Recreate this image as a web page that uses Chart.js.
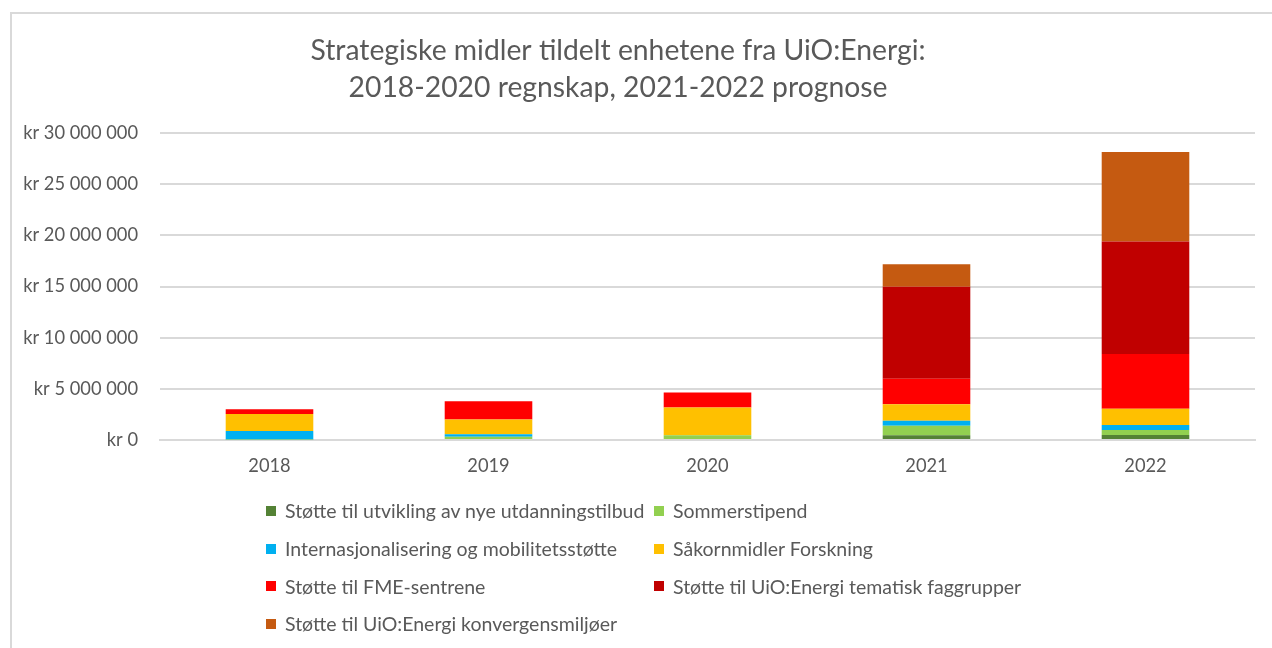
<!DOCTYPE html>
<html>
<head>
<meta charset="utf-8">
<script src="https://cdn.jsdelivr.net/npm/chart.js@4"></script>
<style>
  body { margin: 0; background: #fff; font-family: Lato, "Open Sans", sans-serif; }
  #wrap { position: relative; width: 1272px; height: 648px; overflow: hidden; }
  #frame { position: absolute; left: 10px; top: 12px; width: 1300px; height: 700px; border: 2px solid #d9d9d9; box-sizing: border-box; }
  canvas { position: absolute; left: 0; top: 0; }
  #legend { position: absolute; left: 266px; top: 492px; display: grid; grid-template-columns: 388px 400px; grid-auto-rows: 37.7px; color: #595959; font-size: 19.5px; }
  .item { display: flex; align-items: center; white-space: nowrap; }
  .box { width: 10px; height: 10px; margin-right: 9px; flex: none; }
</style>
</head>
<body>
<div id="wrap">
  <div id="frame"></div>
  <canvas id="myChart" width="1272" height="648"></canvas>
  <div id="legend"></div>
</div>
<script>
// values (NOK)
const years = ["2018", "2019", "2020", "2021", "2022"];
const utvikling = [0, 0, 0, 460000, 490000];
const sommer = [40000, 320000, 460000, 930000, 490000];
const intern = [850000, 230000, 0, 490000, 490000];
const sakorn = [1650000, 1460000, 2720000, 1620000, 1590000];
const fme = [460000, 1780000, 1460000, 2500000, 5350000];
const tematisk = [0, 0, 0, 8980000, 11000000];
const konvergens = [0, 0, 0, 2200000, 8750000];
const yTicks = [0, 5000000, 10000000, 15000000, 20000000, 25000000, 30000000];

const series = [
  { label: "Støtte til utvikling av nye utdanningstilbud", data: utvikling, color: "#548235" },
  { label: "Sommerstipend", data: sommer, color: "#92D050" },
  { label: "Internasjonalisering og mobilitetsstøtte", data: intern, color: "#00B0F0" },
  { label: "Såkornmidler Forskning", data: sakorn, color: "#FFC000" },
  { label: "Støtte til FME-sentrene", data: fme, color: "#FF0000" },
  { label: "Støtte til UiO:Energi tematisk faggrupper", data: tematisk, color: "#C00000" },
  { label: "Støtte til UiO:Energi konvergensmiljøer", data: konvergens, color: "#C55A11" },
];

const krFormat = (value) =>
  "kr " + String(value).replace(/\B(?=(\d{3})+(?!\d))/g, " ");

const font = "Lato, 'Open Sans', sans-serif";
Chart.defaults.font.family = font;
Chart.defaults.color = "#595959";

// trailing spaces nudge the centred title a bit to the left, like the original
const pad = "\u00a0\u00a0\u00a0\u00a0";

const ctx = document.getElementById("myChart");

const chart = new Chart(ctx, {
  type: "bar",
  data: {
    labels: years,
    datasets: series.map((s) => ({
      label: s.label,
      data: s.data,
      backgroundColor: s.color,
      borderWidth: 0,
      barPercentage: 0.4,
      categoryPercentage: 1,
    })),
  },
  options: {
    responsive: false,
    animation: false,
    layout: {
      padding: { left: 10, right: 17, top: 12, bottom: 168 },
    },
    plugins: {
      legend: { display: false },
      tooltip: { enabled: false },
      title: {
        display: true,
        text: [
          "Strategiske midler tildelt enhetene fra UiO:Energi:" + pad,
          "2018-2020 regnskap, 2021-2022 prognose" + pad,
        ],
        color: "#595959",
        font: { size: 28.3, weight: "normal", lineHeight: 1.31 },
        padding: { top: 20, bottom: 27 },
      },
    },
    scales: {
      x: {
        stacked: true,
        grid: { display: false, drawTicks: false },
        border: { color: "#d9d9d9", width: 2 },
        ticks: { padding: 15, font: { size: 18.3 }, color: "#595959" },
        afterFit: (scale) => {
          scale.height = 40;
        },
      },
      y: {
        stacked: true,
        min: 0,
        max: 30000000,
        border: { display: false },
        grid: { color: "#d9d9d9", lineWidth: 2, drawTicks: false },
        afterBuildTicks: (scale) => {
          scale.ticks = yTicks.map((v) => ({ value: v }));
        },
        afterFit: (scale) => {
          scale.width = 150;
        },
        ticks: {
          padding: 22,
          font: { size: 18.3 },
          color: "#595959",
          callback: (value) => krFormat(value),
        },
      },
    },
  },
});

// legend in two columns like the original
const legend = document.getElementById("legend");
chart.data.datasets.forEach((ds) => {
  const item = document.createElement("div");
  item.className = "item";
  const box = document.createElement("span");
  box.className = "box";
  box.style.background = ds.backgroundColor;
  item.appendChild(box);
  item.appendChild(document.createTextNode(ds.label));
  legend.appendChild(item);
});
</script>
</body>
</html>
